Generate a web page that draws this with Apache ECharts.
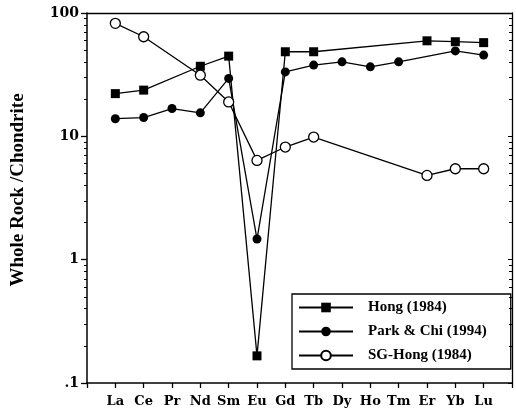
<!DOCTYPE html>
<html>
<head>
<meta charset="utf-8">
<script src="https://cdn.jsdelivr.net/npm/echarts@6/dist/echarts.min.js"></script>
<style>html,body{margin:0;padding:0;background:#fff;}#c{width:516px;height:413px;}</style>
</head>
<body>
<div id="c"></div>
<script>
var categories = ['La','Ce','Pr','Nd','Sm','Eu','Gd','Tb','Dy','Ho','Tm','Er','Yb','Lu'];
var hong =    [22.2, 23.7, null, 37.0, 44.7, 0.166, 48.5, 48.5, null, null, null, 59.5, 58.5, 57.5];
var parkChi = [13.9, 14.2, 16.8, 15.5, 29.5, 1.47, 33.3, 37.8, 40.2, 36.6, 40.2, null, 49.3, 45.6];
var sgHong =  [82.4, 64.2, null, 31.3, 19.0, 6.38, 8.19, 9.87, null, null, null, 4.82, 5.46, 5.46];
var yTicks = [0.1, 1, 10, 100];
var yTickLabels = ['.1', '1', '10', '100'];
var seriesNames = ['Hong (1984)', 'Park & Chi (1994)', 'SG-Hong (1984)'];

var axisCats = [''].concat(categories, ['']);
function pad(a){ return [null].concat(a, [null]); }
var serif = 'Liberation Serif';
var dserif = 'DejaVu Serif';
var black = '#000';

var chart = echarts.init(document.getElementById('c'));
chart.setOption({
  animation: false,
  backgroundColor: '#fff',
  grid: { left: 87, top: 13, right: 4, bottom: 30, containLabel: false, outerBoundsMode: 'none' },
  legend: {
    orient: 'vertical', left: 292, top: 294,
    padding: [6, 24, 6, 6],
    borderColor: black, borderWidth: 1.3,
    itemWidth: 54, itemHeight: 12, itemGap: 9,
    textStyle: { fontFamily: serif, fontWeight: 'bold', fontSize: 15, color: black, padding: [0,0,0,10] },
    data: seriesNames
  },
  xAxis: [{
    type: 'category', data: axisCats, boundaryGap: false, position: 'bottom',
    axisLine: { lineStyle: { color: black, width: 1.5 } },
    axisTick: { show: true, inside: false, length: 5, interval: 0, lineStyle: { color: black, width: 1.3 } },
    axisLabel: { interval: 0, margin: 12, fontFamily: dserif, fontWeight: 'bold', fontSize: 13, color: black },
    splitLine: { show: false }
  }, {
    type: 'category', data: axisCats, boundaryGap: false, position: 'top',
    axisLine: { lineStyle: { color: black, width: 1.3 } },
    axisTick: { show: false }, axisLabel: { show: false }, splitLine: { show: false }
  }],
  yAxis: [{
    type: 'log', logBase: 10, min: 0.1, max: 100, position: 'left',
    name: 'Whole Rock /Chondrite', nameLocation: 'middle', nameGap: 45, nameRotate: 90,
    nameTextStyle: { fontFamily: serif, fontWeight: 'bold', fontSize: 19, color: black, padding: [0,0,14,16] },
    axisLine: { show: true, lineStyle: { color: black, width: 1.5 } },
    axisTick: { show: true, inside: false, length: 6, lineStyle: { color: black, width: 1.3 } },
    minorTick: { show: true, splitNumber: 9, length: 3, lineStyle: { color: black, width: 1 } },
    axisLabel: { margin: 8, fontFamily: dserif, fontWeight: 'bold', fontSize: 14, color: black,
      formatter: function(v){ for (var k=0;k<yTicks.length;k++){ if (Math.abs(yTicks[k]-v) < 1e-9) return yTickLabels[k]; } return ''; } },
    splitLine: { show: false }
  }, {
    type: 'log', logBase: 10, min: 0.1, max: 100, position: 'right',
    axisLine: { show: true, lineStyle: { color: black, width: 1.3 } },
    axisTick: { show: true, inside: true, length: 4, lineStyle: { color: black, width: 1 } },
    minorTick: { show: true, splitNumber: 9, length: 3, lineStyle: { color: black, width: 1 } },
    axisLabel: { show: false }, splitLine: { show: false }
  }],
  series: [{
    name: seriesNames[0], type: 'line', data: pad(hong), connectNulls: true,
    symbol: 'rect', symbolSize: 9,
    itemStyle: { color: black }, lineStyle: { color: black, width: 1.3 }
  }, {
    name: seriesNames[1], type: 'line', data: pad(parkChi), connectNulls: true,
    symbol: 'circle', symbolSize: 9,
    itemStyle: { color: black }, lineStyle: { color: black, width: 1.3 }
  }, {
    name: seriesNames[2], type: 'line', data: pad(sgHong), connectNulls: true,
    symbol: 'circle', symbolSize: 10, showAllSymbol: true,
    itemStyle: { color: '#fff', borderColor: black, borderWidth: 1.3 }, lineStyle: { color: black, width: 1.3 }
  }]
});
</script>
</body>
</html>
